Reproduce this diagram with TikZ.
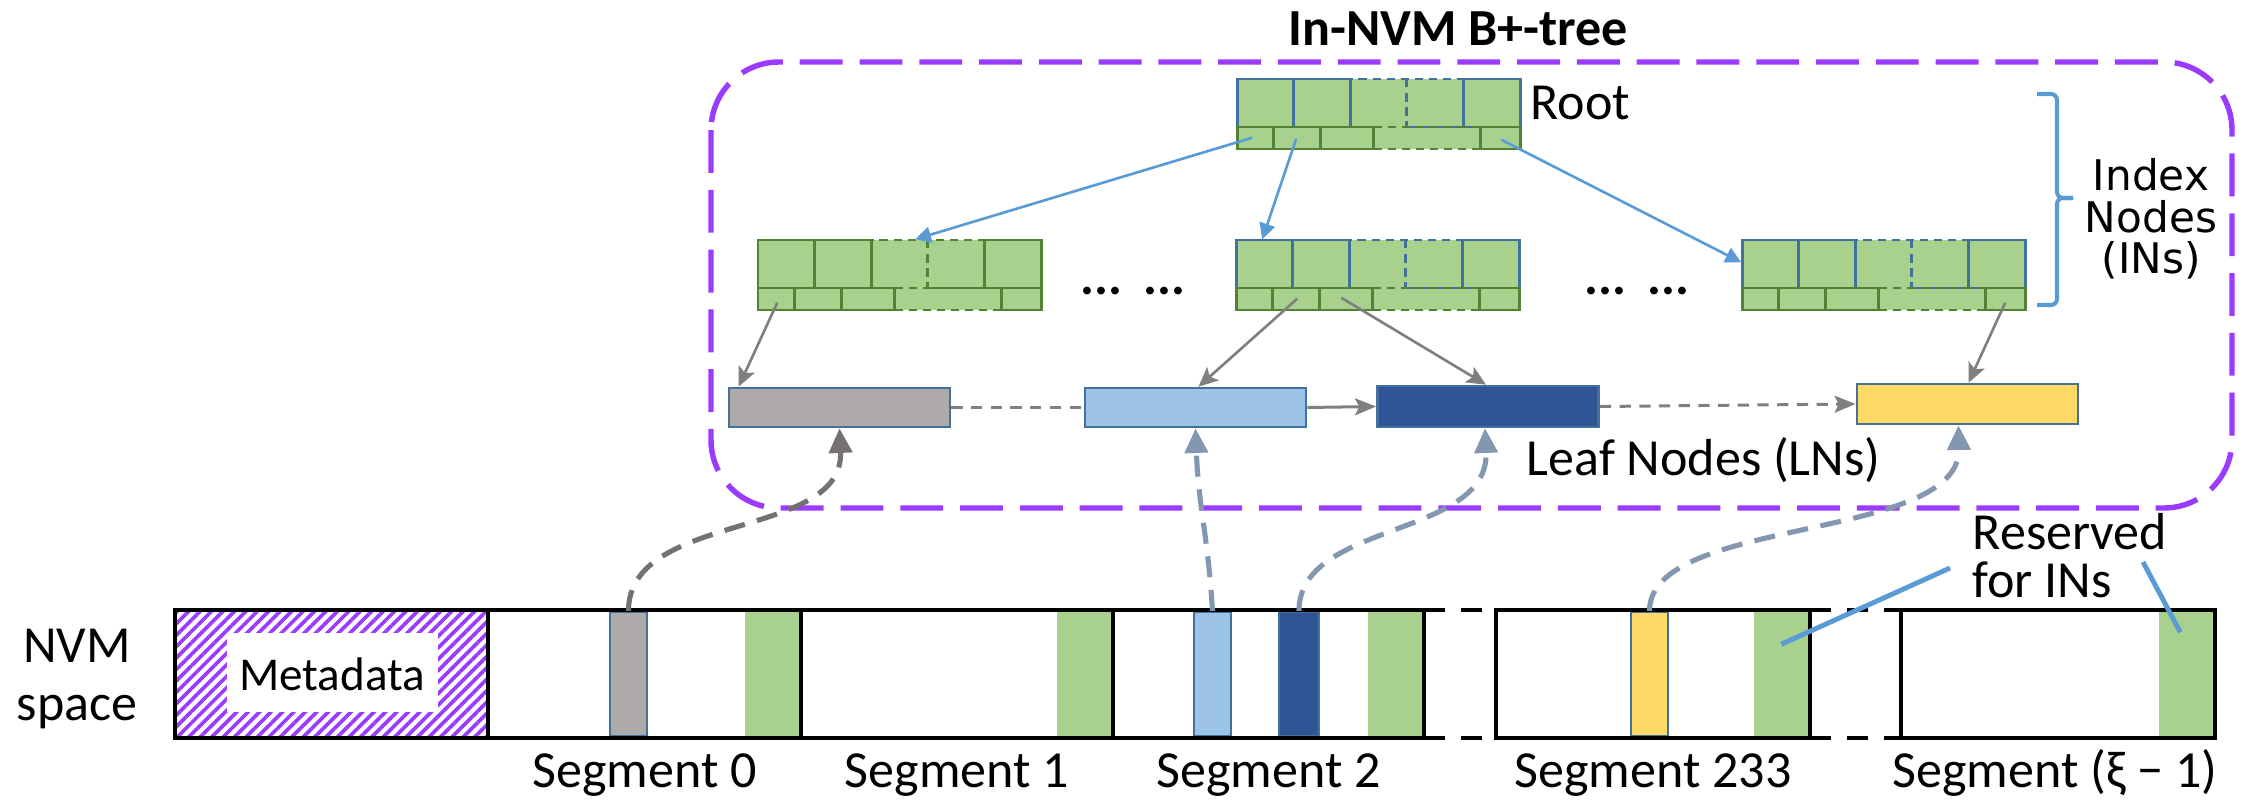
\documentclass[tikz,border=0pt]{standalone}
\usepackage{fontspec}
\setmainfont{Carlito}
\newfontfamily\idxfont{DejaVu Sans}
\usetikzlibrary{arrows.meta,calc,patterns.meta}

\definecolor{boxpurple}{HTML}{9B3BFF}
\definecolor{ingreen}{HTML}{A9D18E}
\definecolor{ingreenline}{HTML}{548235}
\definecolor{inblueline}{HTML}{41719C}
\definecolor{arrowblue}{HTML}{5B9BD5}
\definecolor{arrowgray}{HTML}{7F7F7F}
\definecolor{ptrgray}{HTML}{767171}
\definecolor{ptrblue}{HTML}{8497B0}
\definecolor{lngray}{HTML}{AEAAAA}
\definecolor{lnlight}{HTML}{9DC3E6}
\definecolor{lndark}{HTML}{2F5597}
\definecolor{lnyellow}{HTML}{FFD966}

\newcommand{\lblsize}{\fontsize{14.8}{17}\selectfont}
\newcommand{\metasize}{\fontsize{13.4}{16}\selectfont}
\newcommand{\idxsize}{\fontsize{12}{12}\selectfont}

% one index node: name, left x, top y, border colour of the key row
\newcommand{\innode}[4]{%
  \begin{scope}[shift={(#2,#3)}]
    \fill[ingreen] (0,0) rectangle (283,70);
    \draw[#4,cellline] (0,0) rectangle (56.6,48);
    \draw[#4,cellline] (56.6,0) rectangle (113.2,48);
    \draw[#4,cellline] (226.4,0) rectangle (283,48);
    \draw[#4,cellline,celldash] (113.2,48) -- (113.2,0) -- (226.4,0);
    \draw[#4,cellline,celldash] (169.8,0) -- (169.8,48);
    \draw[#4,cellline] (169.8,48) -- (226.4,48);
    \draw[ingreenline,cellline] (0,48) rectangle (36.5,70);
    \draw[ingreenline,cellline] (36.5,48) rectangle (83,70);
    \draw[ingreenline,cellline] (83,48) rectangle (136.5,70);
    \draw[ingreenline,cellline] (243,48) rectangle (283,70);
    \draw[ingreenline,cellline,celldash] (136.5,48) -- (243,48) (136.5,70) -- (243,70);
  \end{scope}
  \node[inframe] (#1) at (#2+141.5,#3+35) {};
}

\tikzset{
  lbl/.style={font=\lblsize, inner sep=0pt, anchor=base},
  cellline/.style={line width=0.85pt},
  celldash/.style={dash pattern=on 2.4pt off 1.6pt},
  inframe/.style={draw=none, inner sep=0pt, minimum width=2.83cm, minimum height=0.7cm},
  leaf/.style={draw=inblueline, line width=0.75pt, inner sep=0pt, minimum width=2.21cm, minimum height=0.39cm},
  slot/.style={draw=inblueline, line width=0.6pt, inner sep=0pt, minimum height=1.24cm, minimum width=0.37cm},
  resv/.style={fill=ingreen, inner sep=0pt, minimum width=0.56cm, minimum height=1.24cm},
  barline/.style={line width=1.3pt, black},
  gapline/.style={line width=1.3pt, black, dash pattern=on 6pt off 4.5pt},
  rootarrow/.style={draw=arrowblue, line width=0.75pt, -{Triangle[length=4.5pt,width=4.5pt]}},
  downarrow/.style={draw=arrowgray, line width=0.75pt, -{Stealth[length=5.5pt,width=5pt,inset=1.2pt]}},
  leaflink/.style={draw=arrowgray, line width=0.85pt},
  ptr/.style={line width=1.45pt, dash pattern=on 6pt off 3.6pt, -{Triangle[length=7pt,width=6.5pt]}},
  callout/.style={draw=arrowblue, line width=1.4pt},
}

\begin{document}
\begin{tikzpicture}[x=0.01cm,y=-0.01cm]
\useasboundingbox (0,0) rectangle (2244,800);

% ---------------- B+-tree frame ----------------
\draw[boxpurple, line width=1.55pt, dash pattern=on 12.2pt off 4.8pt, rounded corners=0.68cm]
  (711,62) rectangle (2232,508);
\node[lbl, font=\lblsize\bfseries] (title) at (1458,45) {In-NVM B+-tree};

% ---------------- index nodes ----------------
\innode{root}{1237}{79}{inblueline}
\innode{inL}{758}{240}{ingreenline}
\innode{inM}{1236}{240}{inblueline}
\innode{inR}{1742}{240}{inblueline}

\node[lbl, anchor=base west] (rootlbl) at (1530,120) {Root};
\node[lbl, font=\lblsize\bfseries] (dotsA) at (1133,294) {...\hspace{0.4em}...};
\node[lbl, font=\lblsize\bfseries] (dotsB) at (1637,294) {...\hspace{0.4em}...};

% brace grouping the index levels
\draw[arrowblue, line width=1.15pt, rounded corners=0.06cm]
  (2037,94) -- (2057,94) -- (2057,198) -- (2073,198);
\draw[arrowblue, line width=1.15pt, rounded corners=0.06cm]
  (2037,305) -- (2057,305) -- (2057,198) -- (2073,198);
\node[inner sep=0pt, anchor=base, font=\idxfont\idxsize] (idx1) at (2151,190) {Index};
\node[inner sep=0pt, anchor=base, font=\idxfont\idxsize] (idx2) at (2151,232) {Nodes};
\node[inner sep=0pt, anchor=base, font=\idxfont\idxsize] (idx3) at (2151,273) {(INs)};

% ---------------- leaf nodes ----------------
\node[leaf, fill=lngray]   (lnG)  at (839.5,407.5) {};
\node[leaf, fill=lnlight]  (lnLB) at (1195.5,407.5) {};
\node[leaf, fill=lndark, minimum height=0.41cm] (lnDB) at (1488,406.5) {};
\node[leaf, fill=lnyellow, minimum height=0.40cm] (lnY) at (1967.5,404) {};
\node[lbl, anchor=base west] (lnlbl) at (1526,475) {Leaf Nodes (LNs)};

% root to index nodes
\draw[rootarrow] ($(root.south west)+(16,-12)$) -- ($(inL.north west)+(158,0)$);
\draw[rootarrow] ($(root.south west)+(60,-11)$) -- ($(inM.north west)+(27,0)$);
\draw[rootarrow] ($(root.south west)+(265,-10)$) -- ($(inR.north west)+(0,23)$);

% index nodes to leaves
\draw[downarrow] ($(inL.south west)+(20,-8)$) -- ($(lnG.north west)+(11,0)$);
\draw[downarrow] ($(inM.south west)+(62,-12)$) -- ($(lnLB.north)+(3,0)$);
\draw[downarrow] ($(inM.south west)+(106,-13)$) -- ($(lnDB.north)+(-2,0)$);
\draw[downarrow] ($(inR.south west)+(264,-8)$) -- ($(lnY.north)+(1,0)$);

% sibling links
\draw[leaflink, dash pattern=on 3.2pt off 2.4pt] (lnG.east) -- (lnLB.west);
\draw[leaflink, -{Stealth[length=6pt,width=4.8pt,inset=1.2pt]}] (lnLB.east) -- (lnDB.west);
\draw[leaflink, dash pattern=on 3.2pt off 2.4pt, -{Stealth[length=6pt,width=4.8pt,inset=1.2pt]}]
  (lnDB.east) -- (lnY.west);

% ---------------- NVM space ----------------
\node[lbl] (nvm1) at (77,662) {NVM};
\node[lbl] (nvm2) at (77,720) {space};

% metadata area
\fill[pattern={Lines[angle=45,distance=2.3pt,line width=1.05pt]}, pattern color=boxpurple]
  (175,610) rectangle (488,738);
\fill[white] (227,633) rectangle (438,712);
\node[inner sep=0pt, anchor=base, font=\metasize] (meta) at (332,690) {Metadata};

% reserved index areas
\node[resv] (g0)   at (773,674) {};
\node[resv] (g1)   at (1085,674) {};
\node[resv] (g2)   at (1396,674) {};
\node[resv] (g233) at (1782,674) {};
\node[resv] (gX)   at (2187,674) {};

% leaf node slots
\node[slot, fill=lngray]   (sG)  at (628.5,674) {};
\node[slot, fill=lnlight]  (sLB) at (1212.5,674) {};
\node[slot, fill=lndark, minimum width=0.40cm] (sDB) at (1299,674) {};
\node[slot, fill=lnyellow] (sY)  at (1649.5,674) {};

% segment outlines
\draw[barline] (175,610) rectangle (488,738);
\draw[barline] (488,610) rectangle (1424,738);
\draw[barline] (801,610) -- (801,738);
\draw[barline] (1113,610) -- (1113,738);
\draw[barline] (1496,610) rectangle (1810,738);
\draw[barline] (1901,610) rectangle (2215,738);
\draw[gapline] (1424,610) -- (1496,610) (1424,738) -- (1496,738);
\draw[gapline] (1810,610) -- (1901,610) (1810,738) -- (1901,738);

\node[lbl] (seg0)  at (644.5,787) {Segment 0};
\node[lbl] (seg1)  at (957,787)   {Segment 1};
\node[lbl] (seg2)  at (1268.5,787) {Segment 2};
\node[lbl] (seg233) at (1653,787) {Segment 233};
\node[lbl] (segX)  at (2055,787)  {Segment (ξ − 1)};

% reserved label and callouts
\node[lbl, anchor=base west] (res1) at (1972,549) {Reserved};
\node[lbl, anchor=base west] (res2) at (1972,597) {for INs};
\draw[callout] ($(g233.north west)+(28,33)$) -- ($(res2.base west)+(-22,-29)$);
\draw[callout] ($(res1.base west)+(171,13)$) -- ($(gX.north west)+(22,21)$);

% slot to leaf pointers
\draw[ptr, ptrgray] (sG.north) .. controls +(0,-100) and +(5,112) .. (lnG.south);
\draw[ptr, ptrblue] (sLB.north) .. controls +(-5,-80) and +(3,80) .. (lnLB.south);
\draw[ptr, ptrblue] (sDB.north) .. controls +(0,-90) and +(5,110) .. ($(lnDB.south)+(-3,0)$);
\draw[ptr, ptrblue] (sY.north) .. controls +(0,-95) and +(2,117) .. ($(lnY.south)+(-9,0)$);

\end{tikzpicture}
\end{document}
